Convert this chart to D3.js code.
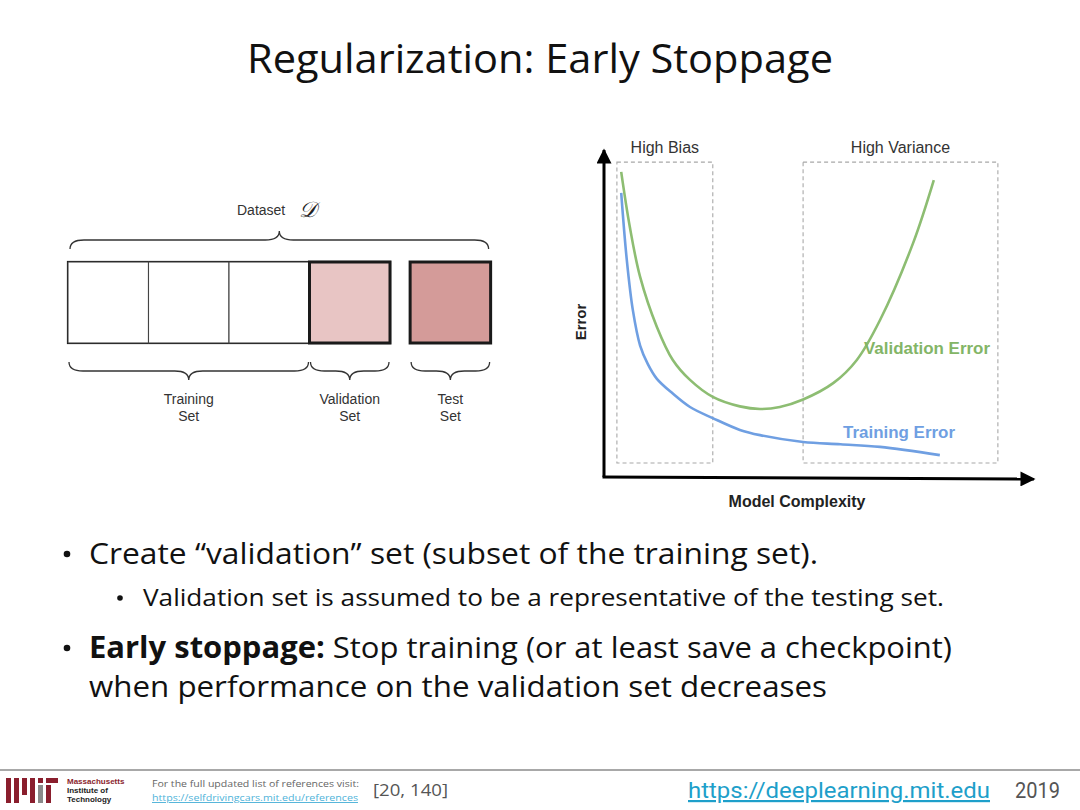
<!DOCTYPE html>
<html>
<head>
<meta charset="utf-8">
<script src="https://cdn.jsdelivr.net/npm/d3@7"></script>
<style>
  body { margin: 0; background: #fff; }
  svg { display: block; }
</style>
</head>
<body>
<svg width="1080" height="810"></svg>
<script>
const width = 1080;
const height = 810;

// curves (x = model complexity, y = error, arbitrary units)
const validationX = [0.40, 0.60, 0.84, 1.23, 1.60, 2.00, 2.53, 3.16, 3.63, 4.09, 4.63, 5.33, 5.88, 6.42, 7.19, 7.67];
const validationErr = [9.33, 7.65, 6.12, 4.59, 3.58, 2.97, 2.45, 2.16, 2.08, 2.14, 2.37, 2.87, 3.58, 4.80, 7.16, 9.08];
const trainingX = [0.40, 0.53, 0.67, 0.84, 1.02, 1.23, 1.60, 2.00, 2.53, 3.16, 3.63, 4.63, 5.50, 6.42, 7.81];
const trainingErr = [8.69, 6.64, 5.11, 4.02, 3.45, 3.00, 2.55, 2.14, 1.80, 1.44, 1.28, 1.07, 1.00, 0.92, 0.67];

// shaded regions
const regionNames = ["High Bias", "High Variance"];
const regionX0 = [0.30, 4.63];
const regionX1 = [2.53, 9.16];

// dataset split
const partNames = ["Training", "Training", "Training", "Validation", "Test"];
const partStart = [0, 1, 2, 3, 4.25];
const partSize = [1, 1, 1, 1, 1];
const braceLabels = [["Training", "Set"], ["Validation", "Set"], ["Test", "Set"]];
const braceStart = [0, 3, 4.25];
const braceEnd = [3, 4, 5.25];

const svg = d3.select('svg');

svg.append('rect').attr('width', width).attr('height', height).attr('fill', '#fff');

// ---- title
svg.append('text')
    .text('Regularization: Early Stoppage')
    .attr('x', 247)
    .attr('y', 73)
    .attr('textLength', 586)
    .attr('lengthAdjust', 'spacingAndGlyphs')
    .attr('font-family', 'Open Sans, sans-serif')
    .attr('font-size', 40)
    .attr('fill', '#111');

// ---- right: error curves
const xScale = d3.scaleLinear().domain([0, 10]).range([604, 1034]);
const yScale = d3.scaleLinear().domain([0, 10]).range([477, 150]);

const defs = svg.append('defs');
defs.append('marker')
    .attr('id', 'arrow')
    .attr('viewBox', '0 0 10 10')
    .attr('refX', 9).attr('refY', 5)
    .attr('markerWidth', 5.5).attr('markerHeight', 5)
    .attr('markerUnits', 'strokeWidth')
    .attr('orient', 'auto')
  .append('path')
    .attr('d', 'M0,0 L10,5 L0,10 Z')
    .attr('fill', '#000');

const chart = svg.append('g');

chart.selectAll('.region')
    .data(regionNames)
    .enter()
    .append('rect')
        .classed('region', true)
        .attr('x', (d, i) => xScale(regionX0[i]))
        .attr('y', yScale(9.63))
        .attr('width', (d, i) => xScale(regionX1[i]) - xScale(regionX0[i]))
        .attr('height', yScale(0.43) - yScale(9.63))
        .attr('fill', 'none')
        .attr('stroke', '#a8a8a8')
        .attr('stroke-width', 1.1)
        .attr('stroke-dasharray', '4,3');

chart.selectAll('.region-label')
    .data(regionNames)
    .enter()
    .append('text')
        .attr('x', (d, i) => (xScale(regionX0[i]) + xScale(regionX1[i])) / 2)
        .attr('y', 153)
        .attr('text-anchor', 'middle')
        .attr('font-family', 'Liberation Sans, Arial, sans-serif')
        .attr('font-size', 16)
        .attr('fill', '#333')
        .text(d => d);

// axes: plain arrows, no ticks
chart.append('line')
    .attr('x1', xScale(0)).attr('y1', yScale(0))
    .attr('x2', xScale(0)).attr('y2', yScale(10))
    .attr('stroke', '#000').attr('stroke-width', 3)
    .attr('marker-end', 'url(#arrow)');
chart.append('line')
    .attr('x1', xScale(0) - 1.5).attr('y1', yScale(0))
    .attr('x2', xScale(10)).attr('y2', yScale(0) + 2)
    .attr('stroke', '#000').attr('stroke-width', 3)
    .attr('marker-end', 'url(#arrow)');

const line = d3.line()
    .x(d => xScale(d[0]))
    .y(d => yScale(d[1]))
    .curve(d3.curveCatmullRom.alpha(0.5));

chart.append('path')
    .datum(d3.zip(validationX, validationErr))
    .attr('d', line)
    .attr('fill', 'none')
    .attr('stroke', '#8dbd72')
    .attr('stroke-width', 2.6);

chart.append('path')
    .datum(d3.zip(trainingX, trainingErr))
    .attr('d', line)
    .attr('fill', 'none')
    .attr('stroke', '#6f9fe2')
    .attr('stroke-width', 2.6);

chart.append('text')
    .text('Validation Error')
    .attr('x', 864).attr('y', 354)
    .attr('textLength', 126).attr('lengthAdjust', 'spacingAndGlyphs')
    .attr('font-family', 'Liberation Sans, Arial, sans-serif')
    .attr('font-weight', 'bold').attr('font-size', 16)
    .attr('fill', '#83b566');

chart.append('text')
    .text('Training Error')
    .attr('x', 843).attr('y', 438)
    .attr('textLength', 112).attr('lengthAdjust', 'spacingAndGlyphs')
    .attr('font-family', 'Liberation Sans, Arial, sans-serif')
    .attr('font-weight', 'bold').attr('font-size', 16)
    .attr('fill', '#6f9fe2');

chart.append('text')
    .text('Model Complexity')
    .attr('x', 797).attr('y', 507)
    .attr('text-anchor', 'middle')
    .attr('font-family', 'Liberation Sans, Arial, sans-serif')
    .attr('font-weight', 'bold').attr('font-size', 16)
    .attr('fill', '#222');

chart.append('text')
    .text('Error')
    .attr('transform', 'translate(586,322) rotate(-90)')
    .attr('text-anchor', 'middle')
    .attr('font-family', 'Liberation Sans, Arial, sans-serif')
    .attr('font-weight', 'bold').attr('font-size', 15)
    .attr('fill', '#222');

// ---- left: dataset split
const partScale = d3.scaleLinear().domain([0, 4]).range([68, 390]);
const boxTop = 262;
const boxBottom = 343;

const fills = { Training: '#fff', Validation: '#e8c5c4', Test: '#d49b99' };

const parts = svg.append('g');

// outer frame for training + validation block
parts.append('rect')
    .attr('x', partScale(0)).attr('y', boxTop)
    .attr('width', partScale(4) - partScale(0)).attr('height', boxBottom - boxTop)
    .attr('fill', 'none').attr('stroke', '#111').attr('stroke-width', 2.2);

parts.selectAll('.cell')
    .data(partNames)
    .enter()
    .append('rect')
        .classed('cell', true)
        .attr('x', (d, i) => partScale(partStart[i]))
        .attr('y', boxTop)
        .attr('width', (d, i) => partScale(partStart[i] + partSize[i]) - partScale(partStart[i]))
        .attr('height', boxBottom - boxTop)
        .attr('fill', d => fills[d])
        .attr('stroke', d => d === 'Training' ? '#444' : '#1a1a1a')
        .attr('stroke-width', d => d === 'Training' ? 1.1 : 3);

// braces
function brace(x1, x2, ye, dir) {
    const yb = ye + dir * 9;
    const yt = ye + dir * 18;
    const xm = (x1 + x2) / 2;
    const r = Math.min(14, (x2 - x1) / 5);
    return `M${x1},${ye} Q${x1},${yb} ${x1 + r},${yb} L${xm - r},${yb} Q${xm},${yb} ${xm},${yt}`
        + ` Q${xm},${yb} ${xm + r},${yb} L${x2 - r},${yb} Q${x2},${yb} ${x2},${ye}`;
}

parts.append('path')
    .attr('d', brace(partScale(0) + 2, partScale(5.25) - 2, 249, -1))
    .attr('fill', 'none').attr('stroke', '#333').attr('stroke-width', 1.3);

parts.selectAll('.brace')
    .data(braceLabels)
    .enter()
    .append('path')
        .classed('brace', true)
        .attr('d', (d, i) => brace(partScale(braceStart[i]) + 1, partScale(braceEnd[i]) - 1, 362, 1))
        .attr('fill', 'none').attr('stroke', '#333').attr('stroke-width', 1.3);

const braceText = parts.selectAll('.brace-label')
    .data(braceLabels)
    .enter()
    .append('text')
        .classed('brace-label', true)
        .attr('text-anchor', 'middle')
        .attr('font-family', 'Liberation Sans, Arial, sans-serif')
        .attr('font-size', 14)
        .attr('fill', '#333');

braceText.selectAll('tspan')
    .data((d, i) => d.map(t => ({ t, x: (partScale(braceStart[i]) + partScale(braceEnd[i])) / 2 })))
    .enter()
    .append('tspan')
        .attr('x', d => d.x)
        .attr('y', (d, j) => 404 + j * 17)
        .text(d => d.t);

parts.append('text')
    .text('Dataset')
    .attr('x', 237).attr('y', 215)
    .attr('font-family', 'Liberation Sans, Arial, sans-serif')
    .attr('font-size', 14)
    .attr('fill', '#333');

parts.append('text')
    .text('\u{1D49F}')
    .attr('x', 299).attr('y', 217)
    .attr('font-family', 'DejaVu Serif, DejaVu Sans, serif')
    .attr('font-style', 'italic')
    .attr('font-size', 22)
    .attr('fill', '#222');

// ---- bullets
const bullets = svg.append('g')
    .attr('font-family', 'Open Sans, sans-serif')
    .attr('fill', '#111');

bullets.append('circle').attr('cx', 67).attr('cy', 554).attr('r', 3.3);
bullets.append('text')
    .text('Create \u201Cvalidation\u201D set (subset of the training set).')
    .attr('x', 89).attr('y', 564)
    .attr('textLength', 729).attr('lengthAdjust', 'spacingAndGlyphs')
    .attr('font-size', 30);

bullets.append('circle').attr('cx', 120).attr('cy', 598).attr('r', 2.8);
bullets.append('text')
    .text('Validation set is assumed to be a representative of the testing set.')
    .attr('x', 143).attr('y', 606)
    .attr('textLength', 801).attr('lengthAdjust', 'spacingAndGlyphs')
    .attr('font-size', 23);

bullets.append('circle').attr('cx', 67).attr('cy', 648).attr('r', 3.3);
const b2 = bullets.append('text')
    .attr('x', 89).attr('y', 658)
    .attr('textLength', 863).attr('lengthAdjust', 'spacingAndGlyphs')
    .attr('font-size', 30);
b2.append('tspan').attr('font-weight', 'bold').text('Early stoppage:');
b2.append('tspan').text(' Stop training (or at least save a checkpoint)');

bullets.append('text')
    .text('when performance on the validation set decreases')
    .attr('x', 89).attr('y', 697)
    .attr('textLength', 738).attr('lengthAdjust', 'spacingAndGlyphs')
    .attr('font-size', 30);

// ---- footer
const footer = svg.append('g');

footer.append('line')
    .attr('x1', 0).attr('x2', width)
    .attr('y1', 770).attr('y2', 770)
    .attr('stroke', '#a8a8a8').attr('stroke-width', 2);

const logoX = [6, 14, 22, 30, 38, 46];
const logoY = [778, 778, 778, 778, 785, 785];
const logoH = [25, 25, 17, 25, 18, 18];
const logoC = ['#8a1e2d', '#8a1e2d', '#8a1e2d', '#8a1e2d', '#8a8a8a', '#8a1e2d'];
footer.selectAll('.logo')
    .data(logoX)
    .enter()
    .append('rect')
        .attr('x', d => d)
        .attr('y', (d, i) => logoY[i])
        .attr('width', 5)
        .attr('height', (d, i) => logoH[i])
        .attr('fill', (d, i) => logoC[i]);
footer.append('rect').attr('x', 38).attr('y', 778).attr('width', 5).attr('height', 5).attr('fill', '#8a1e2d');
footer.append('rect').attr('x', 46).attr('y', 778).attr('width', 12).attr('height', 5).attr('fill', '#8a1e2d');

const logoText = ['Massachusetts', 'Institute of', 'Technology'];
footer.selectAll('.logo-text')
    .data(logoText)
    .enter()
    .append('text')
        .attr('x', 67)
        .attr('y', (d, i) => 784 + i * 9)
        .attr('font-family', 'Liberation Sans, Arial, sans-serif')
        .attr('font-weight', 'bold')
        .attr('font-size', 8)
        .attr('fill', (d, i) => i === 0 ? '#8a1e2d' : '#222')
        .text(d => d);

footer.append('text')
    .text('For the full updated list of references visit:')
    .attr('x', 152).attr('y', 787)
    .attr('textLength', 207).attr('lengthAdjust', 'spacingAndGlyphs')
    .attr('font-family', 'Open Sans, sans-serif')
    .attr('font-size', 9.5)
    .attr('fill', '#666');

footer.append('text')
    .text('https://selfdrivingcars.mit.edu/references')
    .attr('x', 152).attr('y', 801)
    .attr('textLength', 206).attr('lengthAdjust', 'spacingAndGlyphs')
    .attr('font-family', 'Open Sans, sans-serif')
    .attr('font-size', 9.5)
    .attr('text-decoration', 'underline')
    .attr('fill', '#4fb3d9');

footer.append('text')
    .text('[20, 140]')
    .attr('x', 373).attr('y', 796)
    .attr('textLength', 75).attr('lengthAdjust', 'spacingAndGlyphs')
    .attr('font-family', 'Open Sans, sans-serif')
    .attr('font-size', 17)
    .attr('fill', '#555');

footer.append('text')
    .text('https://deeplearning.mit.edu')
    .attr('x', 688).attr('y', 798)
    .attr('textLength', 302).attr('lengthAdjust', 'spacingAndGlyphs')
    .attr('font-family', 'Roboto, sans-serif')
    .attr('font-size', 22)
    .attr('text-decoration', 'underline')
    .attr('fill', '#1e9fca');

footer.append('text')
    .text('2019')
    .attr('x', 1015).attr('y', 798)
    .attr('textLength', 45).attr('lengthAdjust', 'spacingAndGlyphs')
    .attr('font-family', 'Roboto, sans-serif')
    .attr('font-size', 22)
    .attr('fill', '#555');
</script>
</body>
</html>
